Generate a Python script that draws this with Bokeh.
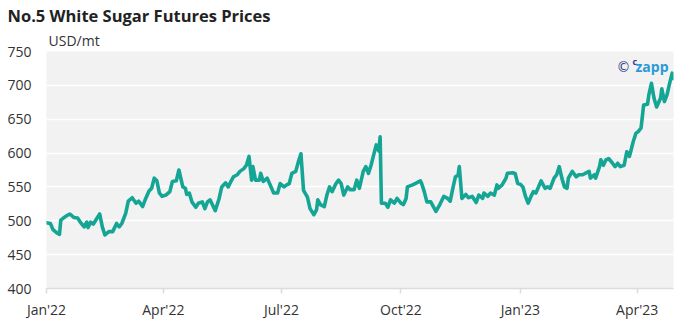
import pandas as pd
from bokeh.plotting import figure
from bokeh.models import (Range1d, FixedTicker, DatetimeTickFormatter, Label, Title,
                          ColumnDataSource)
from bokeh.embed import file_html
from bokeh.resources import INLINE

# ---------------- data ----------------
title_text = "No.5 White Sugar Futures Prices"
unit_text = "USD/mt"

dates = [
    "2022-01-01", "2022-01-04", "2022-01-06", "2022-01-09", "2022-01-11", "2022-01-12",
    "2022-01-14", "2022-01-17", "2022-01-19", "2022-01-22", "2022-01-25", "2022-01-27",
    "2022-01-30", "2022-02-01", "2022-02-02", "2022-02-04", "2022-02-06", "2022-02-09",
    "2022-02-11", "2022-02-13", "2022-02-15", "2022-02-18", "2022-02-21", "2022-02-24",
    "2022-02-26", "2022-02-28", "2022-03-03", "2022-03-05", "2022-03-08", "2022-03-11",
    "2022-03-13", "2022-03-16", "2022-03-18", "2022-03-21", "2022-03-23", "2022-03-25",
    "2022-03-27", "2022-03-29", "2022-03-31", "2022-04-03", "2022-04-06", "2022-04-08",
    "2022-04-11", "2022-04-13", "2022-04-16", "2022-04-18", "2022-04-19", "2022-04-21",
    "2022-04-23", "2022-04-26", "2022-04-28", "2022-05-01", "2022-05-03", "2022-05-05",
    "2022-05-07", "2022-05-09", "2022-05-11", "2022-05-14", "2022-05-16", "2022-05-19",
    "2022-05-21", "2022-05-23", "2022-05-25", "2022-05-28", "2022-05-30", "2022-06-02",
    "2022-06-04", "2022-06-06", "2022-06-08", "2022-06-09", "2022-06-11", "2022-06-14",
    "2022-06-15", "2022-06-17", "2022-06-20", "2022-06-23", "2022-06-25", "2022-06-28",
    "2022-06-30", "2022-07-03", "2022-07-05", "2022-07-07", "2022-07-09", "2022-07-12",
    "2022-07-14", "2022-07-16", "2022-07-18", "2022-07-21", "2022-07-23", "2022-07-26",
    "2022-07-28", "2022-07-29", "2022-07-31", "2022-08-03", "2022-08-05", "2022-08-07",
    "2022-08-09", "2022-08-12", "2022-08-14", "2022-08-16", "2022-08-18", "2022-08-21",
    "2022-08-23", "2022-08-26", "2022-08-28", "2022-08-30", "2022-09-02", "2022-09-04",
    "2022-09-06", "2022-09-08", "2022-09-10", "2022-09-12", "2022-09-14", "2022-09-15",
    "2022-09-16", "2022-09-19", "2022-09-21", "2022-09-23", "2022-09-26", "2022-09-28",
    "2022-10-01", "2022-10-03", "2022-10-05", "2022-10-06", "2022-10-10", "2022-10-12",
    "2022-10-16", "2022-10-17", "2022-10-19", "2022-10-21", "2022-10-24", "2022-10-26",
    "2022-10-28", "2022-10-31", "2022-11-03", "2022-11-06", "2022-11-08", "2022-11-10",
    "2022-11-12", "2022-11-14", "2022-11-15", "2022-11-17", "2022-11-20", "2022-11-22",
    "2022-11-25", "2022-11-28", "2022-11-30", "2022-12-03", "2022-12-04", "2022-12-07",
    "2022-12-09", "2022-12-12", "2022-12-14", "2022-12-15", "2022-12-18", "2022-12-21",
    "2022-12-22", "2022-12-26", "2022-12-28", "2022-12-30", "2023-01-01", "2023-01-03",
    "2023-01-05", "2023-01-07", "2023-01-09", "2023-01-11", "2023-01-13", "2023-01-15",
    "2023-01-17", "2023-01-20", "2023-01-22", "2023-01-24", "2023-01-27", "2023-01-29",
    "2023-01-31", "2023-02-02", "2023-02-04", "2023-02-06", "2023-02-07", "2023-02-10",
    "2023-02-13", "2023-02-15", "2023-02-18", "2023-02-20", "2023-02-23", "2023-02-24",
    "2023-02-27", "2023-02-28", "2023-03-03", "2023-03-04", "2023-03-06", "2023-03-08",
    "2023-03-10", "2023-03-13", "2023-03-15", "2023-03-17", "2023-03-19", "2023-03-22",
    "2023-03-24", "2023-03-26", "2023-03-27", "2023-03-29", "2023-03-31", "2023-04-02",
    "2023-04-04", "2023-04-06", "2023-04-09", "2023-04-10", "2023-04-12", "2023-04-14",
    "2023-04-16", "2023-04-19", "2023-04-20", "2023-04-22", "2023-04-24", "2023-04-26",
    "2023-04-28", "2023-04-29",
]

prices = [
    497, 496, 487, 482, 480, 501,
    504, 508, 510, 505, 504, 498,
    491, 498, 490, 498, 495, 504,
    510, 491, 479, 484, 484, 496,
    491, 496, 511, 529, 534, 526,
    529, 521, 531, 544, 548, 563,
    559, 541, 536, 538, 543, 558,
    559, 575, 550, 548, 539, 541,
    528, 520, 526, 528, 518, 528,
    531, 523, 515, 533, 550, 556,
    550, 558, 565, 568, 573, 577,
    582, 595, 560, 580, 560, 560,
    570, 558, 563, 550, 541, 541,
    555, 550, 553, 555, 570, 573,
    587, 599, 545, 535, 518, 509,
    516, 531, 524, 521, 538, 550,
    543, 555, 560, 555, 538, 550,
    546, 546, 560, 548, 573, 580,
    570, 582, 597, 612, 603, 624,
    526, 526, 520, 531, 526, 533,
    526, 524, 533, 550, 553, 555,
    559, 555, 543, 528, 528, 521,
    514, 524, 536, 533, 529, 548,
    565, 567, 580, 533, 539, 534,
    536, 527, 538, 533, 541, 536,
    541, 538, 553, 548, 553, 563,
    570, 571, 570, 555, 554, 550,
    536, 526, 535, 543, 541, 550,
    559, 548, 550, 548, 563, 568,
    580, 563, 550, 548, 563, 573,
    565, 568, 568, 570, 573, 563,
    568, 563, 580, 590, 582, 590,
    592, 585, 580, 585, 580, 582,
    602, 595, 602, 617, 629, 632,
    637, 671, 672, 686, 703, 681,
    668, 681, 695, 676, 686, 703,
    718, 710,
]

tick_dates = ["2022-01-01", "2022-04-01", "2022-07-01", "2022-10-01", "2023-01-01", "2023-04-01"]
y_ticks = [400, 450, 500, 550, 600, 650, 700, 750]
x_start, x_end = "2022-01-01", "2023-04-29"

# ---------------- layout ----------------
W, H = 684, 334
L, R, T, B = 46, 11, 50, 46
FONT = "Open Sans"
TXT = "#333333"
LINE = "#15a595"

src = ColumnDataSource(dict(date=pd.to_datetime(dates), price=prices))

x0 = pd.Timestamp(x_start)
x1 = pd.Timestamp(x_end)

p = figure(width=W, height=H, x_axis_type="datetime", output_backend="svg",
           toolbar_location=None, tools="",
           x_range=Range1d(x0, x1), y_range=Range1d(y_ticks[0], y_ticks[-1]),
           min_border_left=L, min_border_right=R, min_border_top=T, min_border_bottom=B)
p.title.text = ""
p.background_fill_color = "#f2f2f2"
p.border_fill_color = "white"
p.outline_line_color = None

# titles (first added sits closest to the frame)
p.add_layout(Title(text=unit_text, align="left", offset=2, standoff=3,
                   text_font=FONT, text_font_size="14px", text_font_style="normal",
                   text_color=TXT), "above")
p.add_layout(Title(text=title_text, align="left", offset=-39, standoff=2,
                   text_font=FONT, text_font_size="16.5px", text_font_style="bold",
                   text_color="#222222"), "above")

# grids
p.xgrid.grid_line_color = None
p.ygrid.ticker = FixedTicker(ticks=y_ticks)
p.ygrid.grid_line_color = "white"
p.ygrid.grid_line_width = 1.5

# y axis
ya = p.yaxis[0]
ya.ticker = FixedTicker(ticks=y_ticks)
ya.axis_line_color = None
ya.major_tick_line_color = None
ya.minor_tick_line_color = None
ya.major_tick_in = 0
ya.major_tick_out = 0
ya.major_label_standoff = 15
ya.major_label_text_font = FONT
ya.major_label_text_font_size = "14px"
ya.major_label_text_color = TXT

# x axis
xa = p.xaxis[0]
xa.ticker = FixedTicker(ticks=[pd.Timestamp(d).value / 1e6 for d in tick_dates])
fmt = "%b'%y"
xa.formatter = DatetimeTickFormatter(days=fmt, months=fmt, years=fmt, hours=fmt)
xa.axis_line_color = "#dcdcdc"
xa.axis_line_width = 1.5
xa.major_tick_line_color = "#dcdcdc"
xa.major_tick_line_width = 1.5
xa.major_tick_in = 0
xa.major_tick_out = 5
xa.minor_tick_line_color = None
xa.major_label_standoff = 6
xa.major_label_text_font = FONT
xa.major_label_text_font_size = "14px"
xa.major_label_text_color = TXT

# the series
p.line(x="date", y="price", source=src, line_color=LINE, line_width=3.6,
       line_join="round", line_cap="round")

# helpers to place the watermark (inside the frame) at pixel positions
fw = W - L - R
fh = H - T - B
def px_x(px):
    return (x0 + (x1 - x0) * ((px - L) / fw)).to_pydatetime()
def px_y(py):
    return y_ticks[0] + (H - B - py) * (y_ticks[-1] - y_ticks[0]) / fh

p.add_layout(Label(x=px_x(616), y=px_y(66), text="\u00a9", text_font="DejaVu Sans",
                   text_font_size="14px", text_color="#343a86",
                   text_align="left", text_baseline="alphabetic"))
p.add_layout(Label(x=px_x(632), y=px_y(60), text="c", text_font=FONT,
                   text_font_size="9px", text_font_style="bold", text_color="#343a86",
                   text_align="left", text_baseline="alphabetic"))
p.add_layout(Label(x=px_x(668), y=px_y(65), text="zapp", text_font=FONT,
                   text_font_size="14px", text_font_style="bold", text_color="#2a9ad6",
                   text_align="right", text_baseline="alphabetic"))

open("out.html", "w").write(file_html(p, INLINE))
